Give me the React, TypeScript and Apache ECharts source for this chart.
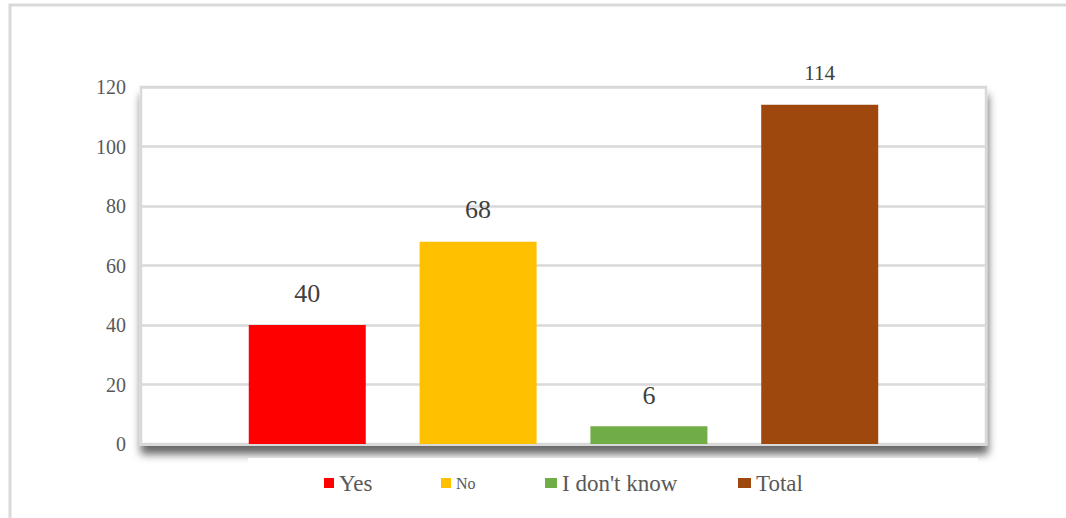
import React, { useEffect, useRef } from "react";
import * as echarts from "echarts";

const categories = [""];
const seriesNames = ["Yes", "No", "I don't know", "Total"];
const seriesValues = [40, 68, 6, 114];
const seriesColors = ["#ff0000", "#ffc000", "#70ad47", "#9e480e"];
const yTicks = { min: 0, max: 120, interval: 20 };

const FONT = "'Liberation Serif', 'Times New Roman', serif";

export default function App() {
  const ref = useRef<HTMLDivElement>(null);
  useEffect(() => {
    if (!ref.current) return;
    const chart = echarts.init(ref.current, null, { renderer: "svg" });
    const labelSizes = [26, 26, 26, 21];
    const labelDist = [19, 19, 18, 21];
    const legendPos = [
      { left: 324, w: 10, size: 23 },
      { left: 441, w: 10, size: 16 },
      { left: 545, w: 12, size: 23 },
      { left: 738, w: 13, size: 23 },
    ];
    chart.setOption({
      animation: false,
      backgroundColor: "#ffffff",
      grid: {
        left: 141,
        top: 87,
        right: 80,
        bottom: 74,
        show: true,
        backgroundColor: "#ffffff",
        borderColor: "#d9d9d9",
        borderWidth: 2.5,
        shadowColor: "rgba(0,0,0,0.6)",
        shadowBlur: 8,
        shadowOffsetX: 1,
        shadowOffsetY: 9,
      },
      xAxis: {
        type: "category",
        data: categories,
        axisLine: { show: true, lineStyle: { color: "#d9d9d9", width: 3 } },
        axisTick: { show: false },
        axisLabel: { show: false },
      },
      yAxis: {
        type: "value",
        min: yTicks.min,
        max: yTicks.max,
        interval: yTicks.interval,
        axisLine: { show: false },
        axisTick: { show: false },
        axisLabel: {
          margin: 15,
          color: "#595959",
          fontFamily: FONT,
          fontSize: 20,
        },
        splitLine: { lineStyle: { color: "#d9d9d9", width: 2.5 } },
      },
      legend: seriesNames.map((name, i) => ({
        data: [name],
        left: legendPos[i].left,
        top: 483 - legendPos[i].size / 2,
        itemWidth: legendPos[i].w,
        itemHeight: 10,
        icon: "rect",
        selectedMode: false,
        padding: 0,
        z: 20,
        textStyle: {
          color: "#595959",
          fontFamily: FONT,
          fontSize: legendPos[i].size,
        },
      })),
      graphic: [
        {
          type: "rect",
          z: -10,
          silent: true,
          shape: { x: 10, y: 5, width: 1200, height: 700 },
          style: { fill: "none", stroke: "#d9d9d9", lineWidth: 3 },
        },
        {
          type: "rect",
          z: 1,
          silent: true,
          shape: { x: 248, y: 458, width: 730, height: 50 },
          style: { fill: "#ffffff" },
        },
      ],
      series: seriesNames.map((name, i) => ({
        name,
        type: "bar",
        data: [seriesValues[i]],
        barWidth: 117,
        barGap: "46%",
        itemStyle: { color: seriesColors[i] },
        z: 3,
        label: {
          show: true,
          position: "top",
          distance: labelDist[i],
          color: "#404040",
          fontFamily: FONT,
          fontSize: labelSizes[i],
        },
      })),
    });
    return () => chart.dispose();
  }, []);
  return (
    <div
      ref={ref}
      style={{ position: "fixed", left: 0, top: 0, width: 1066, height: 518 }}
    />
  );
}
